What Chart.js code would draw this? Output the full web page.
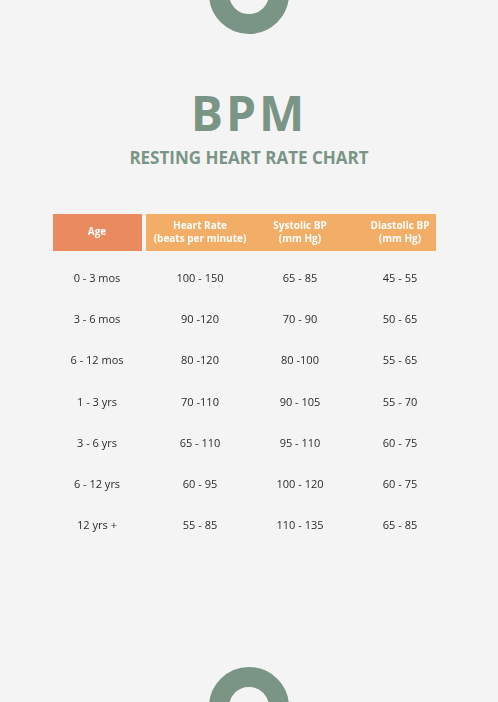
<!DOCTYPE html>
<html>
<head>
<meta charset="utf-8">
<script src="https://cdn.jsdelivr.net/npm/chart.js@4"></script>
<style>
  body { margin: 0; background: #f4f4f4; width: 498px; height: 702px; overflow: hidden; position: relative; font-family: "Open Sans", sans-serif; }
  .ring { position: absolute; left: 209px; width: 40px; height: 40px; border: 20px solid #7a9585; border-radius: 50%; }
  #top { top: -46px; }
  #bottom { top: 667px; }
  h1 { position: absolute; top: 80px; width: 100%; margin: 0; text-align: center; font-size: 48px; font-weight: 700; color: #7a9585; letter-spacing: 3px; }
  h2 { position: absolute; top: 146px; width: 100%; margin: 0; text-align: center; font-size: 17px; font-weight: 700; color: #7a9585; }
  #wrap { position: absolute; left: 0; top: 0; width: 498px; height: 702px; }
</style>
</head>
<body>
<div class="ring" id="top"></div>
<div class="ring" id="bottom"></div>
<h1>BPM</h1>
<h2>RESTING HEART RATE CHART</h2>
<div id="wrap"><canvas id="table"></canvas></div>
<script>
const columns = ['Age', 'Heart Rate', 'Systolic BP', 'Diastolic BP'];
const headerLines = [['Age'], ['Heart Rate', '(beats per minute)'], ['Systolic BP', '(mm Hg)'], ['Diastolic BP', '(mm Hg)']];
const ages = ['0 - 3 mos', '3 - 6 mos', '6 - 12 mos', '1 - 3 yrs', '3 - 6 yrs', '6 - 12 yrs', '12 yrs +'];
const heartRate = ['100 - 150', '90 -120', '80 -120', '70 -110', '65 - 110', '60 - 95', '55 - 85'];
const systolic = ['65 - 85', '70 - 90', '80 -100', '90 - 105', '95 - 110', '100 - 120', '110 - 135'];
const diastolic = ['45 - 55', '50 - 65', '55 - 65', '55 - 70', '60 - 75', '60 - 75', '65 - 85'];

const cols = [ages, heartRate, systolic, diastolic];

const tablePlugin = {
    id: 'tableCells',
    afterDraw(chart) {
        const ctx = chart.ctx;
        const x = chart.scales.x;
        const y = chart.scales.y;
        const area = chart.chartArea;
        // header cells
        const top = 214, h = 37;
        ctx.fillStyle = '#e98b5f';
        ctx.fillRect(area.left + 3, top, 89, h);
        ctx.fillStyle = '#f2ad66';
        ctx.fillRect(area.left + 96, top, area.right - area.left - 110, h);
        ctx.fillStyle = '#ffffff';
        ctx.font = 'bold 10px "Open Sans"';
        ctx.textAlign = 'center';
        ctx.textBaseline = 'middle';
        headerLines.forEach((lines, j) => {
            const cx = x.getPixelForValue(j) - (j === 0 ? 3 : 0);
            lines.forEach((t, k) => {
                const cy = top + h / 2 + (k - (lines.length - 1) / 2) * 13;
                ctx.fillText(t, cx, cy);
            });
        });
        // body cells
        ctx.fillStyle = '#2b2b2b';
        ctx.font = '11px "Open Sans"';
        cols.forEach((col, j) => {
            col.forEach((t, i) => {
                ctx.fillText(t, x.getPixelForValue(j) - (j === 0 ? 3 : 0), y.getPixelForValue(i));
            });
        });
    }
};

new Chart(document.getElementById('table'), {
    type: 'line',
    data: {
        labels: columns,
        datasets: [{ data: [], showLine: false, pointRadius: 0 }]
    },
    options: {
        responsive: true,
        maintainAspectRatio: false,
        animation: false,
        layout: { padding: { left: 50, right: 48, top: 258, bottom: 155 } },
        plugins: { legend: { display: false }, tooltip: { enabled: false } },
        scales: {
            x: { type: 'category', labels: columns, display: false, offset: true },
            y: { type: 'category', labels: ages, display: false, offset: true }
        }
    },
    plugins: [tablePlugin]
});
</script>
</body>
</html>
